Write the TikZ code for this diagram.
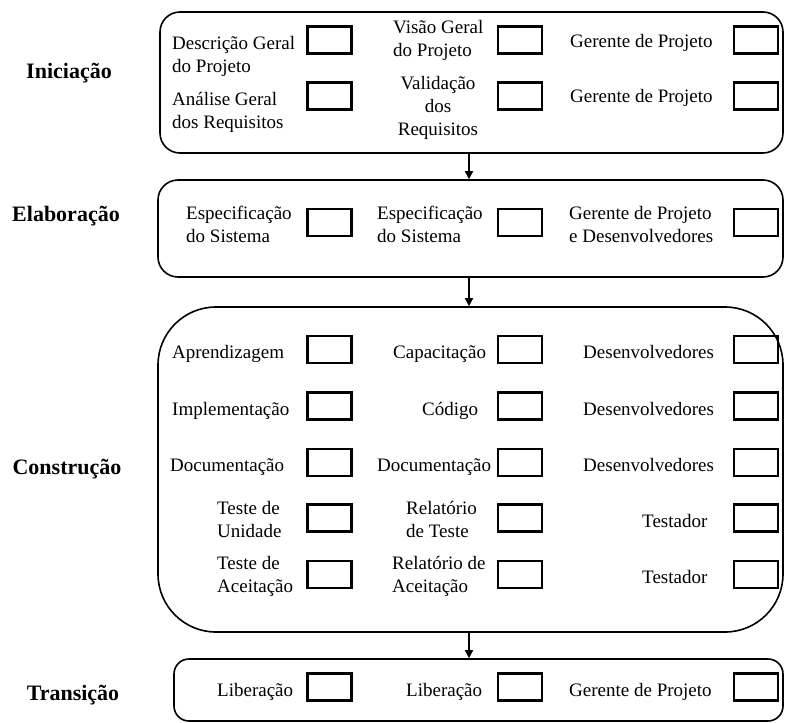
\documentclass[tikz,border=0pt]{standalone}
\usepackage{fontspec}
\setmainfont{Liberation Serif}
\usetikzlibrary{arrows.meta}
\begin{document}
\begin{tikzpicture}[x=1pt,y=-1pt,
  cont/.style={draw, line width=1.6pt, rounded corners=20pt, inner sep=0pt},
  slot/.style={draw, line width=2.3pt, minimum width=44pt, minimum height=27pt, inner sep=0pt},
  txt/.style={font=\fontsize{19}{23}\selectfont, inner sep=0pt},
  phase/.style={font=\fontsize{22}{26}\selectfont\bfseries, inner sep=0pt, anchor=base},
  arr/.style={line width=1.5pt, -{Triangle[length=8pt,width=8pt]}}
]
\useasboundingbox (0,0) rectangle (785,723);

% phase containers
\node[cont, minimum width=623pt, minimum height=141pt] (ini) at (471.5,82.5) {};
\node[cont, minimum width=625pt, minimum height=97pt] (ela) at (470.5,228.5) {};
\node[cont, rounded corners=58pt, minimum width=625pt, minimum height=325pt] (con) at (470.5,469.5) {};
\node[cont, rounded corners=15pt, minimum width=609pt, minimum height=62pt] (tra) at (478.5,690) {};

% phase labels
\node[phase] (lini) at (69,78) {Iniciação};
\node[phase] (lela) at (66,221) {Elaboração};
\node[phase] (lcon) at (67,474) {Construção};
\node[phase] (ltra) at (73,700) {Transição};

% arrows
\coordinate (ax) at (469,0);
\draw[arr] (ini.south -| ax) -- (ela.north -| ax);
\draw[arr] (ela.south -| ax) -- (con.north -| ax);
\draw[arr] (con.south -| ax) -- (tra.north -| ax);

% Iniciacao
\node[txt,align=left,anchor=west] (i11) at (172,56.5) {\strut Descrição Geral\\\strut do Projeto};
\node[txt,align=left,anchor=west] (i21) at (172,112) {\strut Análise Geral\\\strut dos Requisitos};
\node[txt,align=left,anchor=west] (i12) at (393,40.5) {\strut Visão Geral\\\strut do Projeto};
\node[txt,align=center] (i22) at (438,108) {\strut Validação\\\strut dos\\\strut Requisitos};
\node[txt,anchor=west] (i13) at (570,43.3) {\strut Gerente de Projeto};
\node[txt,anchor=west] (i23) at (570,98.3) {\strut Gerente de Projeto};
\node[slot] (bi11) at (329.5,40) {};
\node[slot] (bi21) at (329.5,96) {};
\node[slot] (bi12) at (520,40) {};
\node[slot] (bi22) at (520,96) {};
\node[slot] (bi13) at (756,40) {};
\node[slot] (bi23) at (756,96) {};

% Elaboracao
\node[txt,align=left,anchor=west] (e1) at (186,226) {\strut Especificação\\\strut do Sistema};
\node[txt,align=left,anchor=west] (e2) at (377,226) {\strut Especificação\\\strut do Sistema};
\node[txt,align=left,anchor=west] (e3) at (569,226) {\strut Gerente de Projeto\\\strut e Desenvolvedores};
\node[slot] (be1) at (329.5,222.5) {};
\node[slot] (be2) at (520,222.5) {};
\node[slot] (be3) at (756,222.5) {};

% Construcao
\node[txt,anchor=west] (c11) at (172,354.3) {\strut Aprendizagem};
\node[txt,anchor=west] (c12) at (393,354.3) {\strut Capacitação};
\node[txt,anchor=west] (c13) at (583,354.3) {\strut Desenvolvedores};
\node[txt,anchor=west] (c21) at (172,411.3) {\strut Implementação};
\node[txt,anchor=west] (c22) at (422,411.3) {\strut Código};
\node[txt,anchor=west] (c23) at (583,411.3) {\strut Desenvolvedores};
\node[txt,anchor=west] (c31) at (170,467.3) {\strut Documentação};
\node[txt,anchor=west] (c32) at (377,467.3) {\strut Documentação};
\node[txt,anchor=west] (c33) at (583,467.3) {\strut Desenvolvedores};
\node[txt,align=left,anchor=west] (c41) at (217,521) {\strut Teste de\\\strut Unidade};
\node[txt,align=left,anchor=west] (c42) at (406,521) {\strut Relatório\\\strut de Teste};
\node[txt,anchor=west] (c43) at (642,523.3) {\strut Testador};
\node[txt,align=left,anchor=west] (c51) at (217,576) {\strut Teste de\\\strut Aceitação};
\node[txt,align=left,anchor=west] (c52) at (392,576) {\strut Relatório de\\\strut Aceitação};
\node[txt,anchor=west] (c53) at (642,579.3) {\strut Testador};
\foreach \r/\y in {1/349.5,2/406,3/462.5,4/518,5/574.5}{
  \node[slot] (bc\r1) at (329.5,\y) {};
  \node[slot] (bc\r2) at (520,\y) {};
  \node[slot] (bc\r3) at (756,\y) {};
}

% Transicao
\node[txt,anchor=west] (r1) at (217,692) {\strut Liberação};
\node[txt,anchor=west] (r2) at (406,692) {\strut Liberação};
\node[txt,anchor=west] (r3) at (569,692) {\strut Gerente de Projeto};
\node[slot] (br1) at (329.5,687) {};
\node[slot] (br2) at (520,687) {};
\node[slot] (br3) at (756,687) {};
\end{tikzpicture}
\end{document}
